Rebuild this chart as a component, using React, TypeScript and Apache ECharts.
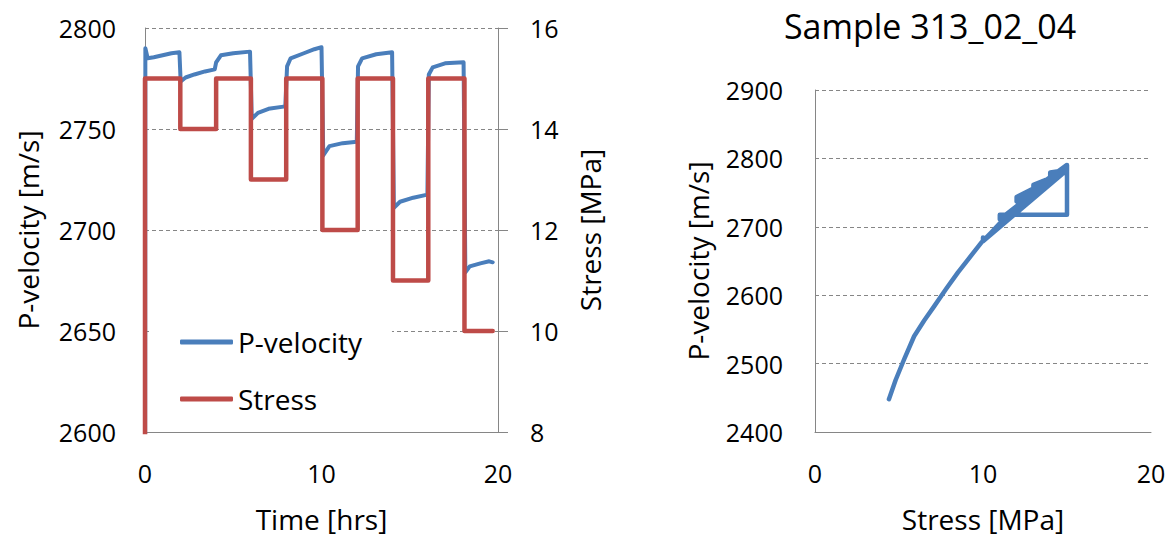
import React, { useEffect, useRef } from "react";
import * as echarts from "echarts";

// Left panel: P-velocity vs time
const velocityTime = [0, 0.02, 0.15, 0.5, 1.0, 1.5, 1.95, 2.02, 2.3, 2.8, 3.4, 3.95, 4.03, 4.3, 5.0, 5.95, 6.05, 6.4, 7.0, 7.95, 8.05, 8.25, 9.0, 9.6, 10.0, 10.1, 10.45, 11.2, 12.0, 12.07, 12.3, 13.1, 14.0, 14.1, 14.45, 15.2, 16.0, 16.08, 16.3, 17.0, 18.05, 18.15, 18.4, 19.0, 19.5, 19.7];
const velocityValue = [2448, 2790, 2785, 2785.5, 2786.5, 2787.5, 2788, 2773.5, 2775.5, 2777, 2778.5, 2779.5, 2783, 2786.5, 2787.5, 2788.3, 2755, 2758, 2760, 2761.2, 2781, 2785, 2787.5, 2789.5, 2790.5, 2737, 2741.5, 2743, 2743.7, 2781, 2785, 2787, 2788, 2711, 2714, 2716, 2717.5, 2777, 2780.5, 2782.5, 2783, 2679, 2682, 2683.5, 2684.5, 2684];

// Left panel: stress vs time
const stressTime = [0, 0, 2, 2, 4.03, 4.03, 6, 6, 8, 8, 10.05, 10.05, 12.05, 12.05, 14.05, 14.05, 16.05, 16.05, 18.1, 18.1, 19.7];
const stressValue = [4.4, 15, 15, 14, 14, 15, 15, 13, 13, 15, 15, 12, 12, 15, 15, 11, 11, 15, 15, 10, 10];

// Right panel: P-velocity vs stress
const loopStress = [4.4, 4.8, 5.3, 5.9, 6.5, 7.1, 7.8, 8.5, 9.2, 9.9, 10.5, 11.0, 11.5, 12.0, 12.5, 13.0, 13.5, 14.0, 14.5, 15.0, 15, 15, 14, 14, 15, 15, 13, 13, 15, 15, 12, 12, 15, 15, 11, 11, 15, 15, 15, 10, 10];
const loopVelocity = [2448, 2476, 2506, 2540, 2563, 2584, 2609, 2633, 2655, 2677, 2692, 2705, 2716, 2727, 2738, 2749, 2759, 2769, 2778, 2787, 2785, 2788, 2773.5, 2779.5, 2783, 2788.3, 2755, 2761.2, 2781, 2790.5, 2737, 2743.7, 2781, 2788, 2711, 2717.5, 2717.5, 2777, 2783, 2679, 2684.5];

const legendNames = ["P-velocity", "Stress"];
const titleText = "Sample 313_02_04";

const FONT = "Open Sans";
const GRAY = "#868686";
const BLUE = "#4A7EBB";
const RED = "#BE4B48";

const zip = (a: number[], b: number[]) => a.map((v, i) => [v, b[i]]);
const plain = (v: number) => String(v);

export default function App() {
  const ref = useRef<HTMLDivElement>(null);
  useEffect(() => {
    if (!ref.current) return;
    const chart = echarts.init(ref.current, undefined, { renderer: "svg" });
    const labelStyle = { fontFamily: FONT, fontSize: 25, color: "#000", formatter: plain };
    const nameStyle = { fontFamily: FONT, fontSize: 28, color: "#000" };
    const axisLine = { show: true, lineStyle: { color: GRAY, width: 1 } };
    const split = { show: true, lineStyle: { color: GRAY, width: 1, type: [4, 3] } };
    chart.setOption({
      animation: false,
      backgroundColor: "#fff",
      graphic: [
        {
          type: "text",
          x: 930,
          y: 26,
          style: {
            text: titleText,
            fontFamily: FONT,
            fontSize: 34,
            fill: "#000",
            align: "center",
            verticalAlign: "middle",
          },
        },
      ],
      legend: {
        data: legendNames,
        orient: "vertical",
        left: 150,
        top: 315,
        padding: [12, 30, 10, 30],
        backgroundColor: "#fff",
        icon: "roundRect",
        itemWidth: 53,
        itemHeight: 5,
        itemGap: 27,
        textStyle: { fontFamily: FONT, fontSize: 28, color: "#000", lineHeight: 30 },
      },
      grid: [
        { left: 145, top: 28, width: 353, height: 405 },
        { left: 815, top: 90, width: 336, height: 343 },
      ],
      xAxis: [
        {
          type: "value", gridIndex: 0, min: 0, max: 20, interval: 10,
          axisLine, axisTick: { show: false }, splitLine: { show: false },
          axisLabel: { ...labelStyle, margin: 28 },
          name: "Time [hrs]", nameLocation: "middle", nameGap: 73, nameTextStyle: nameStyle,
        },
        {
          type: "value", gridIndex: 1, min: 0, max: 20, interval: 10,
          axisLine, axisTick: { show: false }, splitLine: { show: false },
          axisLabel: { ...labelStyle, margin: 28 },
          name: "Stress [MPa]", nameLocation: "middle", nameGap: 73, nameTextStyle: nameStyle,
        },
      ],
      yAxis: [
        {
          type: "value", gridIndex: 0, min: 2600, max: 2800, interval: 50,
          axisLine, axisTick: { show: false }, splitLine: split,
          axisLabel: { ...labelStyle, margin: 29 },
          name: "P-velocity [m/s]", nameLocation: "middle", nameGap: 103, nameRotate: 90, nameTextStyle: nameStyle,
        },
        {
          type: "value", gridIndex: 0, min: 8, max: 16, interval: 2, position: "right",
          axisLine, axisTick: { show: true, length: 10, lineStyle: { color: GRAY } }, splitLine: { show: false },
          axisLabel: { ...labelStyle, margin: 32 },
          name: "Stress [MPa]", nameLocation: "middle", nameGap: 78, nameRotate: 90, nameTextStyle: nameStyle,
        },
        {
          type: "value", gridIndex: 1, min: 2400, max: 2900, interval: 100,
          axisLine, axisTick: { show: false }, splitLine: split,
          axisLabel: { ...labelStyle, margin: 32 },
          name: "P-velocity [m/s]", nameLocation: "middle", nameGap: 103, nameRotate: 90, nameTextStyle: nameStyle,
        },
      ],
      series: [
        {
          name: "P-velocity", type: "line", xAxisIndex: 0, yAxisIndex: 0,
          data: zip(velocityTime, velocityValue), showSymbol: false, symbol: "none", clip: true,
          itemStyle: { color: BLUE },
          lineStyle: { color: BLUE, width: 4, cap: "round", join: "round" }, z: 2,
        },
        {
          name: "Stress", type: "line", xAxisIndex: 0, yAxisIndex: 1,
          data: zip(stressTime, stressValue), showSymbol: false, symbol: "none", clip: true,
          itemStyle: { color: RED },
          lineStyle: { color: RED, width: 4.5, cap: "round", join: "round" }, z: 3,
        },
        {
          name: "Loop", type: "line", xAxisIndex: 1, yAxisIndex: 2,
          data: zip(loopStress, loopVelocity), showSymbol: false, symbol: "none", clip: true,
          itemStyle: { color: BLUE },
          lineStyle: { color: BLUE, width: 4.5, cap: "round", join: "round" }, z: 2,
        },
      ],
    });
    return () => chart.dispose();
  }, []);
  return (
    <div
      ref={ref}
      style={{ position: "fixed", left: 0, top: 0, width: 1173, height: 538, background: "#fff" }}
    />
  );
}
